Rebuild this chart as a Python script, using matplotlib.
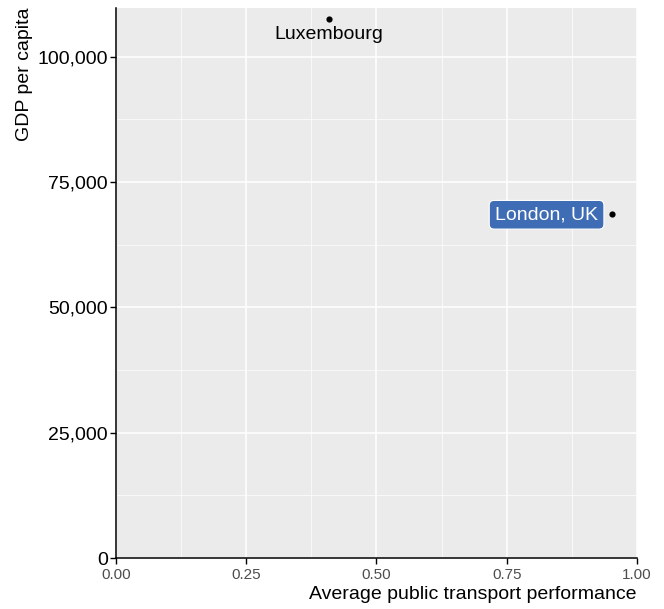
import matplotlib

matplotlib.use("Agg")
import matplotlib.pyplot as plt  # noqa: E402
from matplotlib.ticker import FuncFormatter, MultipleLocator  # noqa: E402

plt.rcParams["font.family"] = ["Liberation Sans", "DejaVu Sans"]

cities = ["Luxembourg", "London, UK"]
transport = [0.409, 0.952]
gdp = [107500, 68600]

fig = plt.figure(figsize=(6.64, 6.09), dpi=100)
ax = fig.add_axes([0.1747, 0.0837, 0.7846, 0.9032])
ax.set_facecolor("#EBEBEB")

ax.scatter(transport, gdp, s=20, color="black", zorder=3, linewidths=0)

# Luxembourg: plain label below the point
ax.annotate(cities[0], (transport[0], gdp[0]), textcoords="offset points",
            xytext=(0, -5), ha="center", va="top", fontsize=14, color="black")
# London: filled label box to the left
ax.annotate(cities[1], (transport[1], gdp[1]), textcoords="offset points",
            xytext=(-10, -0.5), ha="right", va="center", fontsize=14, color="white",
            bbox=dict(boxstyle="round,pad=0.3,rounding_size=0.25", fc="#3E6DB5",
                      ec="white", lw=0.8))

ax.set_xlim(0, 1)
ax.set_ylim(0, 109700)
ax.xaxis.set_major_locator(MultipleLocator(0.25))
ax.xaxis.set_minor_locator(MultipleLocator(0.125))
ax.yaxis.set_major_locator(MultipleLocator(25000))
ax.yaxis.set_minor_locator(MultipleLocator(12500))
ax.xaxis.set_major_formatter(FuncFormatter(lambda v, p: f"{v:.2f}"))
ax.yaxis.set_major_formatter(FuncFormatter(lambda v, p: f"{v:,.0f}"))

ax.grid(which="major", color="white", lw=1.1)
ax.grid(which="minor", color="white", lw=0.5)
ax.set_axisbelow(True)

for s in ["top", "right"]:
    ax.spines[s].set_visible(False)
for s in ["left", "bottom"]:
    ax.spines[s].set_color("black")
    ax.spines[s].set_linewidth(1.1)

ax.tick_params(axis="y", which="major", labelsize=14, colors="black", length=4, width=1, pad=2)
ax.tick_params(axis="x", which="major", labelsize=11, labelcolor="#4D4D4D", color="black",
               length=4, width=1, pad=3)
ax.tick_params(which="minor", length=0)

ax.set_xlabel("Average public transport performance", fontsize=14, loc="right", labelpad=3)
ax.set_ylabel("GDP per capita", fontsize=14, loc="top", labelpad=3)

fig.savefig("out.png", dpi=100)
